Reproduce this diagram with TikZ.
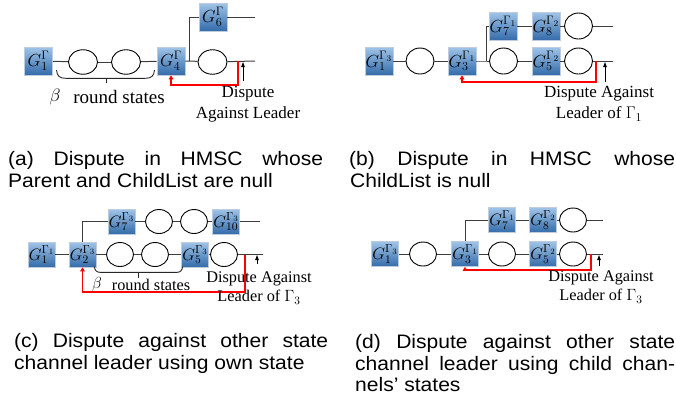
\RequirePackage{fix-cm}
\documentclass[tikz,border=0pt]{standalone}
\usepackage{fontspec}
\setmainfont{Liberation Serif}
\newfontfamily\capfont{Liberation Sans}[FakeStretch=1.08]
\usetikzlibrary{shapes.geometric,arrows.meta}

\definecolor{btop}{RGB}{160,196,232}
\definecolor{bbot}{RGB}{52,108,170}
\definecolor{bedge}{RGB}{190,205,222}
\definecolor{lgray}{RGB}{60,60,60}

\tikzset{
 gbox/.style={rectangle, minimum width=28pt, minimum height=28pt, inner sep=0pt,
   top color=btop, bottom color=bbot, draw=bedge, line width=0.6pt,
   font=\fontsize{17.5}{19}\selectfont},
 gboxs/.style={gbox, minimum width=27pt, minimum height=25pt, font=\fontsize{16.5}{18}\selectfont},
 st/.style={ellipse, draw=black, line width=0.9pt, minimum width=29pt, minimum height=24.5pt, inner sep=0pt},
 sts/.style={st, minimum width=27pt, minimum height=24pt},
 ln/.style={draw=lgray, line width=1pt},
 brc/.style={draw=black!85, line width=0.9pt},
 redln/.style={draw=red, line width=1.6pt, -{Triangle[length=4pt,width=4.5pt]}},
 blkarr/.style={draw=black, line width=0.8pt, -{Triangle[length=5pt,width=3.5pt]}},
 lbl/.style={font=\fontsize{17}{21.5}\selectfont, align=center, inner sep=0pt},
 lbls/.style={font=\fontsize{16.3}{19.5}\selectfont, align=center, inner sep=0pt},
 captext/.style={font=\capfont\fontsize{19.5}{22}\selectfont, anchor=base west, inner sep=0pt},
}

\begin{document}
\begin{tikzpicture}[x=1pt,y=-1pt]
\useasboundingbox (0,0) rectangle (676,405);

% ---------------- panel (a)
\node[gbox] (a1) at (38.5,61) {$G_1^{\Gamma}$};
\node[st] (a2) at (83,62) {};
\node[st] (a3) at (126,62) {};
\node[gbox] (a4) at (171,61) {$G_4^{\Gamma}$};
\node[st] (a5) at (212.5,62) {};
\node[gbox] (a6) at (213,17) {$G_6^{\Gamma}$};
\coordinate (aj) at (189,61);
\coordinate (ae) at (255,61);
\coordinate (ae2) at (255,17);
\draw[ln] (a1) -- (a2);
\draw[ln] (a2) -- (a3);
\draw[ln] (a3) -- (a4);
\draw[ln] (a4) -- (aj) -- (a5);
\draw[ln] (a5) -- (ae);
\draw[ln] (aj) |- (a6);
\draw[ln] (a6) -- (ae2);
\coordinate (ar) at (238,61);
\draw[redln] (ar) -- ++(0,24) -| (a4.south);
\coordinate (ab) at (243,81);
\draw[blkarr] (ab) -- ++(0,-19);
\node[lbl] (at) at (248,104) {Dispute\\Against Leader};
\draw[brc] (56.5,70) .. controls (57,76.5) and (60,78.3) .. (66,78.3) -- (145,78.3)
  .. controls (151,78.3) and (154,76.5) .. (154.5,70);
\draw[brc] (106,78.3) -- (106,83);
\node[font=\fontsize{18}{20}\selectfont, inner sep=0pt] (abeta) at (55,97) {$\beta$};
\node[font=\fontsize{19}{21}\selectfont, inner sep=0pt] (around) at (119,97) {round states};

% ---------------- panel (b)
\node[gbox] (b1) at (379,61) {$G_1^{\Gamma_3}$};
\node[st, minimum width=28pt, minimum height=26pt] (b2) at (420,61) {};
\node[gbox] (b3) at (462,61) {$G_3^{\Gamma_1}$};
\coordinate (bj) at (486,61);
\node[st, minimum width=28pt, minimum height=26pt] (b4) at (503.5,61) {};
\node[gbox] (b5) at (546,61) {$G_5^{\Gamma_2}$};
\node[st, minimum width=28pt, minimum height=26pt] (b6) at (578.5,61) {};
\coordinate (be) at (613,61);
\node[gbox] (b7) at (503,26) {$G_7^{\Gamma_1}$};
\node[gbox] (b8) at (546,26) {$G_8^{\Gamma_2}$};
\node[st, minimum width=28pt, minimum height=26pt] (b9) at (578.5,26) {};
\coordinate (be2) at (613,26);
\draw[ln] (b1) -- (b2);
\draw[ln] (b2) -- (b3);
\draw[ln] (b3) -- (bj) -- (b4);
\draw[ln] (b4) -- (b5);
\draw[ln] (b5) -- (b6);
\draw[ln] (b6) -- (be);
\draw[ln] (bj) |- (b7);
\draw[ln] (b7) -- (b8);
\draw[ln] (b8) -- (b9);
\draw[ln] (b9) -- (be2);
\coordinate (br) at (596,61);
\draw[redln] (br) -- ++(0,21) -| (b3.south);
\coordinate (bb) at (605,82);
\draw[blkarr] (bb) -- ++(0,-20);
\node[lbl] (bt) at (599,103.5) {Dispute Against\\Leader of $\Gamma_1$};

% ---------------- panel (c)
\node[gboxs] (c1) at (41.5,254.5) {$G_1^{\Gamma_1}$};
\node[gboxs] (c2) at (82.5,254.5) {$G_2^{\Gamma_3}$};
\node[sts] (c3) at (120,254.5) {};
\node[sts] (c4) at (155,254.5) {};
\node[gboxs] (c5) at (195,254.5) {$G_5^{\Gamma_3}$};
\node[sts] (c6) at (224,254.5) {};
\coordinate (ce) at (263,254.5);
\node[gboxs] (c7) at (121.5,221.5) {$G_7^{\Gamma_3}$};
\node[sts] (c8) at (159,221.5) {};
\node[sts] (c9) at (194,221.5) {};
\node[gboxs] (c10) at (226,221.5) {$G_{10}^{\Gamma_3}$};
\coordinate (ce2) at (260,221.5);
\draw[ln] (c1) -- (c2);
\draw[ln] (c2) -- (c3);
\draw[ln] (c3) -- (c4);
\draw[ln] (c4) -- (c5);
\draw[ln] (c5) -- (c6);
\draw[ln] (c6) -- (ce);
\draw[ln] (c2.north) |- (c7);
\draw[ln] (c7) -- (c8);
\draw[ln] (c8) -- (c9);
\draw[ln] (c9) -- (c10);
\draw[ln] (c10) -- (ce2);
\coordinate (cr) at (245,254.5);
\draw[redln] (cr) -- ++(0,37.5) -| (c2.south);
\coordinate (cb) at (257,264);
\draw[blkarr] (cb) -- ++(0,-9);
\node[lbls] (ct) at (259,288) {Dispute Against\\Leader of $\Gamma_3$};
\draw[brc] (94.3,266.7) .. controls (95,270.5) and (96.5,272.3) .. (100,272.3) -- (177,272.3)
  .. controls (180.5,272.3) and (182,270.5) .. (182.7,266.7);
\draw[brc] (138.3,272.3) -- (138.3,277.7);
\node[font=\fontsize{16}{18}\selectfont, inner sep=0pt] (cbeta) at (97,284.5) {$\beta$};
\node[font=\fontsize{16.3}{18}\selectfont, inner sep=0pt] (cround) at (151,285) {round states};

% ---------------- panel (d)
\node[gboxs] (d1) at (385,254) {$G_1^{\Gamma_3}$};
\node[sts] (d2) at (423,254) {};
\node[gboxs] (d3) at (465,254) {$G_3^{\Gamma_1}$};
\node[sts] (d4) at (502,254) {};
\node[gboxs] (d5) at (543,254) {$G_5^{\Gamma_2}$};
\node[sts] (d6) at (573,254) {};
\coordinate (de) at (603,254);
\node[gboxs] (d7) at (502,220) {$G_7^{\Gamma_1}$};
\node[gboxs] (d8) at (543,220) {$G_8^{\Gamma_2}$};
\node[sts] (d9) at (573,220) {};
\coordinate (de2) at (603,220);
\draw[ln] (d1) -- (d2);
\draw[ln] (d2) -- (d3);
\draw[ln] (d3) -- (d4);
\draw[ln] (d4) -- (d5);
\draw[ln] (d5) -- (d6);
\draw[ln] (d6) -- (de);
\draw[ln] (d3.north) |- (d7);
\draw[ln] (d7) -- (d8);
\draw[ln] (d8) -- (d9);
\draw[ln] (d9) -- (de2);
\coordinate (dr) at (591,254);
\draw[redln] (dr) -- ++(0,16) -| (d3.south);
\coordinate (db) at (599,266);
\draw[blkarr] (db) -- ++(0,-11);
\node[lbls] (dt) at (601,287) {Dispute Against\\Leader of $\Gamma_3$};

% ---------------- captions
\node[captext] (capa1) at (8,165) {\makebox[315pt][s]{(a) Dispute in HMSC whose}};
\node[captext] (capa2) at (8,187) {Parent and ChildList are null};
\node[captext] (capb1) at (349,165) {\makebox[326pt][s]{(b) Dispute in HMSC whose}};
\node[captext] (capb2) at (350,187) {ChildList is null};
\node[captext] (capc1) at (14,347) {\makebox[314pt][s]{(c) Dispute against other state}};
\node[captext] (capc2) at (14,369) {channel leader using own state};
\node[captext] (capd1) at (355,348) {\makebox[320pt][s]{(d) Dispute against other state}};
\node[captext] (capd2) at (355,370) {\makebox[320pt][s]{channel leader using child chan-}};
\node[captext] (capd3) at (355,391) {nels’ states};
\end{tikzpicture}
\end{document}
